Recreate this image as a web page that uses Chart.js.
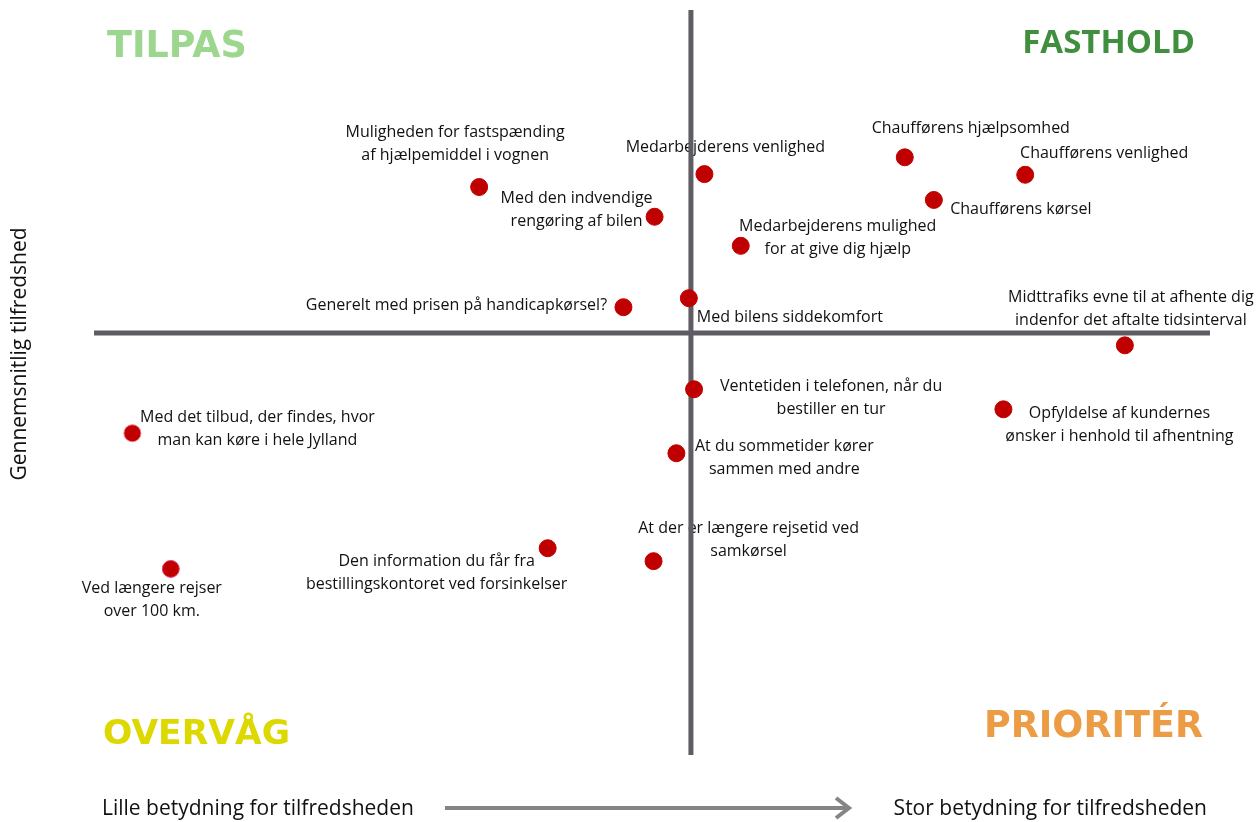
<!DOCTYPE html>
<html>
<head>
<meta charset="utf-8">
<script src="https://cdn.jsdelivr.net/npm/chart.js@4.4.1/dist/chart.umd.min.js"></script>
<style>
  html, body { margin: 0; padding: 0; background: #fff; }
</style>
</head>
<body>
<canvas id="chart_quadrant" width="1260" height="822"></canvas>
<script>
// statement texts (\n = line break in the label)
const itemNames = [
  'Muligheden for fastspænding\naf hjælpemiddel i vognen',
  'Med den indvendige\nrengøring af bilen',
  'Medarbejderens venlighed',
  'Chaufførens hjælpsomhed',
  'Chaufførens venlighed',
  'Chaufførens kørsel',
  'Medarbejderens mulighed\nfor at give dig hjælp',
  'Generelt med prisen på handicapkørsel?',
  'Med bilens siddekomfort',
  'Midttrafiks evne til at afhente dig\nindenfor det aftalte tidsinterval',
  'Ventetiden i telefonen, når du\nbestiller en tur',
  'Opfyldelse af kundernes\nønsker i henhold til afhentning',
  'Med det tilbud, der findes, hvor\nman kan køre i hele Jylland',
  'At du sommetider kører\nsammen med andre',
  'At der er længere rejsetid ved\nsamkørsel',
  'Den information du får fra\nbestillingskontoret ved forsinkelser',
  'Ved længere rejser\nover 100 km.'
];

// importance (x) and average satisfaction (y), relative to the cross
const importance = [-2.04, -0.35, 0.13, 2.06, 3.22, 2.34, 0.48, -0.65, -0.02, 4.18, 0.03, 3.01, -5.38, -0.14, -0.36, -1.38, -5.01];
const satisfaction = [2.26, 1.80, 2.46, 2.72, 2.45, 2.06, 1.35, 0.40, 0.54, -0.19, -0.87, -1.18, -1.55, -1.86, -3.53, -3.33, -3.65];

const quadrantTitles = ['TILPAS', 'FASTHOLD', 'OVERVÅG', 'PRIORITÉR'];
const xAxisTexts = ['Lille betydning for tilfredsheden', 'Stor betydning for tilfredsheden'];
const yAxisText = 'Gennemsnitlig tilfredshed';

// where each label sits, in px from its dot (centre of first line)
const labelOffsets = [
  [-24, -55], [-78, -18], [21, -27], [66, -29], [79, -21], [87, 9], [97, -19],
  [-167, -2], [101, 19], [6, -48], [137, -3], [116, 4], [125, -16], [108, -7],
  [95, -33], [-111, 13], [-19, 20]
];

const dotBorders = itemNames.map((n, i) => i === 12 ? '#f07c84' : (i === 16 ? '#e8407a' : '#c00000'));

const quadrantPlugin = {
  id: 'quadrant',
  beforeDatasetsDraw(chart) {
    const { ctx, chartArea, scales: { x, y } } = chart;
    const x0 = x.getPixelForValue(0);
    const y0 = y.getPixelForValue(0);
    ctx.save();

    // point labels
    ctx.fillStyle = '#111';
    ctx.font = '16px "Open Sans"';
    ctx.textAlign = 'center';
    ctx.textBaseline = 'middle';
    itemNames.forEach((name, i) => {
      const px = x.getPixelForValue(importance[i]);
      const py = y.getPixelForValue(satisfaction[i]);
      const [dx, dy] = labelOffsets[i];
      name.split('\n').forEach((line, j) => {
        ctx.fillText(line, px + dx, py + dy + j * 23);
      });
    });

    // the cross
    ctx.strokeStyle = '#5f5c63';
    ctx.lineWidth = 5;
    ctx.beginPath();
    ctx.moveTo(x0, chartArea.top);
    ctx.lineTo(x0, chartArea.bottom);
    ctx.moveTo(chartArea.left, y0);
    ctx.lineTo(chartArea.right, y0);
    ctx.stroke();
    ctx.restore();
  },
  afterDraw(chart) {
    const { ctx } = chart;
    ctx.save();
    ctx.textBaseline = 'middle';

    // quadrant titles
    ctx.textAlign = 'left';
    ctx.font = 'bold 36.5px "DejaVu Sans"';
    ctx.fillStyle = '#9dd78f';
    ctx.fillText(quadrantTitles[0], 107, 48);
    ctx.textAlign = 'right';
    ctx.fillStyle = '#ec9c45';
    ctx.fillText(quadrantTitles[3], 1203, 728);
    ctx.textAlign = 'left';
    ctx.font = 'bold 34.5px "DejaVu Sans"';
    ctx.fillStyle = '#dcd800';
    ctx.fillText(quadrantTitles[2], 103, 735);
    ctx.textAlign = 'right';
    ctx.font = 'bold 33px "Open Sans"';
    ctx.fillStyle = '#3f8f3f';
    ctx.fillText(quadrantTitles[1], 1195, 44);

    // bottom texts and arrow
    ctx.font = '21px "Open Sans"';
    ctx.fillStyle = '#111';
    ctx.textAlign = 'left';
    ctx.fillText(xAxisTexts[0], 102, 809);
    ctx.textAlign = 'right';
    ctx.fillText(xAxisTexts[1], 1207, 809);

    ctx.strokeStyle = '#858585';
    ctx.lineWidth = 4;
    ctx.beginPath();
    ctx.moveTo(445, 808);
    ctx.lineTo(848, 808);
    ctx.stroke();
    ctx.beginPath();
    ctx.moveTo(836, 798);
    ctx.lineTo(849, 808);
    ctx.lineTo(836, 818);
    ctx.stroke();

    // y axis title
    ctx.translate(20, 354);
    ctx.rotate(-Math.PI / 2);
    ctx.textAlign = 'center';
    ctx.font = '21px "Open Sans"';
    ctx.fillStyle = '#111';
    ctx.fillText(yAxisText, 0, 0);
    ctx.restore();
  }
};

const ctx = document.getElementById('chart_quadrant').getContext('2d');
new Chart(ctx, {
  type: 'scatter',
  data: {
    datasets: [{
      data: importance.map((v, i) => ({ x: v, y: satisfaction[i] })),
      backgroundColor: '#c00000',
      borderColor: dotBorders,
      borderWidth: 1,
      pointRadius: 8.5,
      pointHoverRadius: 8.5
    }]
  },
  options: {
    responsive: false,
    animation: false,
    layout: { padding: { left: 94, right: 50, top: 10, bottom: 67 } },
    scales: {
      x: { type: 'linear', min: -5.75, max: 5, display: false },
      y: { type: 'linear', min: -6.53, max: 5, display: false }
    },
    plugins: {
      legend: { display: false },
      tooltip: { enabled: false }
    }
  },
  plugins: [quadrantPlugin]
});
</script>
</body>
</html>
